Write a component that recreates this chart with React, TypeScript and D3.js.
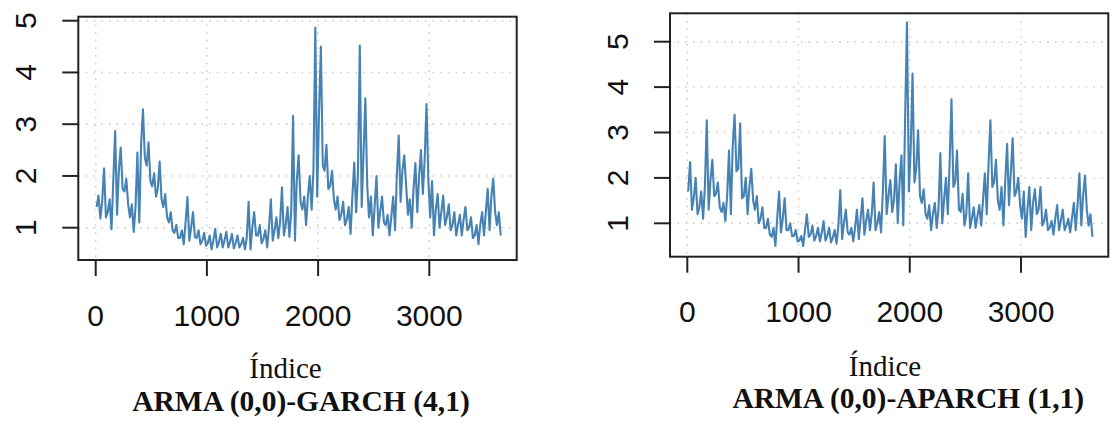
import React from 'react';
import * as d3 from 'd3';

const BIN = 50;
const xTicks = [0, 1000, 2000, 3000];
const yTicks = [1, 2, 3, 4, 5];

const garchLo = [
  1.18, 1.2, 0.97, 1.25, 1.75, 1.45, 0.92, 1.1, 2.35, 1.9,
  1.6, 1.55, 1.2, 0.95, 0.8, 0.68, 0.75, 0.82, 0.68, 0.65,
  0.58, 0.62, 0.62, 0.62, 0.6, 0.62, 0.58, 0.58, 0.85, 0.7,
  0.62, 0.75, 0.8, 0.85, 0.82, 0.75, 1.5, 1.05, 1.35, 1.6,
  2.2, 1.75, 1.55, 1.15, 1.05, 0.88, 1.3, 1.4, 1.8, 0.85,
  1.0, 1.1, 0.85, 0.95, 1.5, 1.8, 1.0, 1.3, 1.65, 1.9,
  0.85, 1.0, 1.05, 0.95, 0.85, 0.85, 0.95, 0.8, 0.68, 0.85,
  0.95, 1.3, 0.85,
];
const garchMid = [
  1.4, 1.5, 1.3, 1.9, 2.1, 1.7, 1.2, 1.4, 2.6, 2.2,
  1.8, 1.75, 1.4, 1.1, 0.9, 0.8, 1.1, 1.0, 0.8, 0.75,
  0.7, 0.75, 0.72, 0.75, 0.72, 0.7, 0.68, 0.8, 1.0, 0.85,
  0.78, 1.0, 0.95, 1.1, 1.05, 1.3, 1.9, 1.35, 1.6, 2.1,
  3.2, 2.1, 1.8, 1.35, 1.25, 1.15, 1.6, 2.0, 2.4, 1.2,
  1.4, 1.3, 1.05, 1.2, 2.0, 2.1, 1.25, 1.75, 2.0, 2.3,
  1.2, 1.35, 1.3, 1.2, 1.05, 1.05, 1.15, 1.0, 0.85, 1.05,
  1.3, 1.6, 1.05,
];
const garchHi = [
  1.62, 2.15, 1.55, 2.87, 2.55, 1.95, 1.45, 2.45, 3.29, 2.65,
  2.05, 2.28, 1.65, 1.3, 1.05, 0.95, 1.59, 1.3, 0.95, 0.9,
  0.85, 0.98, 0.88, 0.92, 0.88, 0.85, 0.8, 1.5, 1.3, 1.05,
  0.95, 1.55, 1.2, 1.78, 1.4, 3.16, 2.4, 1.6, 2.0, 4.87,
  4.5, 2.6, 2.1, 1.6, 1.5, 1.4, 2.26, 4.52, 3.5, 1.6,
  2.0, 1.6, 1.25, 1.6, 2.78, 2.4, 1.55, 2.25, 2.5, 3.39,
  1.9, 1.65, 1.62, 1.45, 1.3, 1.25, 1.4, 1.2, 1.05, 1.3,
  1.75, 1.95, 1.3,
];
const aparchLo = [
  1.3, 1.2, 1.1, 1.3, 1.6, 1.35, 1.05, 1.2, 2.15, 1.55,
  1.2, 1.5, 1.0, 0.9, 0.75, 0.5, 0.8, 0.85, 0.72, 0.6,
  0.5, 0.7, 0.62, 0.6, 0.62, 0.58, 0.55, 0.65, 0.8, 0.6,
  0.65, 0.75, 0.85, 0.85, 0.8, 1.2, 1.25, 1.0, 0.95, 1.7,
  1.9, 1.6, 1.2, 0.85, 0.9, 1.0, 1.2, 1.8, 1.3, 0.95,
  0.9, 0.9, 0.95, 1.2, 1.8, 1.5, 0.95, 1.4, 1.6, 1.4,
  0.7, 0.85, 1.2, 0.95, 0.85, 0.75, 0.85, 0.85, 0.8, 0.85,
  0.95, 1.3, 0.7,
];
const aparchMid = [
  1.7, 1.55, 1.35, 1.8, 1.95, 1.65, 1.25, 1.6, 2.7, 2.2,
  1.6, 1.8, 1.3, 1.1, 0.9, 0.7, 1.1, 1.1, 0.85, 0.72,
  0.62, 0.85, 0.75, 0.72, 0.78, 0.72, 0.68, 0.95, 1.0, 0.75,
  0.9, 1.1, 1.05, 1.2, 1.0, 1.7, 1.6, 1.5, 1.9, 3.3,
  2.6, 2.2, 1.45, 1.1, 1.2, 1.3, 1.5, 2.3, 1.9, 1.25,
  1.2, 1.1, 1.15, 1.5, 2.3, 1.9, 1.3, 1.9, 2.1, 1.7,
  1.1, 1.3, 1.45, 1.3, 1.05, 0.9, 1.1, 1.05, 0.95, 1.1,
  1.4, 1.6, 0.95,
];
const aparchHi = [
  2.35, 2.0, 1.7, 3.27, 2.4, 1.9, 1.45, 2.6, 3.39, 3.2,
  2.0, 2.2, 1.6, 1.35, 1.1, 0.9, 1.7, 1.55, 1.0, 0.85,
  0.72, 1.2, 0.95, 0.9, 1.05, 0.9, 0.85, 1.73, 1.3, 0.9,
  1.3, 1.55, 1.3, 1.9, 1.25, 2.92, 1.95, 2.3, 2.5, 5.43,
  4.3, 3.05, 1.75, 1.4, 1.45, 2.55, 2.0, 3.73, 2.6, 1.65,
  2.1, 1.35, 1.4, 2.1, 3.27, 2.4, 1.8, 2.75, 2.87, 2.0,
  1.7, 1.8, 1.75, 1.8, 1.3, 1.05, 1.4, 1.3, 1.1, 1.45,
  2.1, 2.05, 1.2,
];

const xLabel = 'Índice';
const titles = ['ARMA (0,0)-GARCH (4,1)', 'ARMA (0,0)-APARCH (1,1)'];

// ---- layout ----
const panels = [
  {
    lo: garchLo, mid: garchMid, hi: garchHi, title: titles[0],
    box: { x0: 78.3, x1: 516.7, y0: 16.7, y1: 260 },
    xRange: [95.7, 429.3], yRange: [227.7, 20.7],
    yLabelX: 35.5, tickBase: 326, xlabX: 285.5, xlabBase: 378, titleX: 301, titleBase: 411,
  },
  {
    lo: aparchLo, mid: aparchMid, hi: aparchHi, title: titles[1],
    box: { x0: 670, x1: 1108.3, y0: 13.3, y1: 256.7 },
    xRange: [687.3, 1021], yRange: [223.3, 41.7],
    yLabelX: 628, tickBase: 322, xlabX: 885, xlabBase: 376, titleX: 908.3, titleBase: 407.5,
  },
];

const LINE = '#4682B4';
const AXIS = '#222';
const GRID = '#c4c4c4';
const SANS = '"Liberation Sans", Arial, sans-serif';
const SERIF = '"Liberation Serif", "Times New Roman", serif';

function Panel({ p }: { p: (typeof panels)[number] }) {
  const x = d3.scaleLinear().domain([0, 3000]).range(p.xRange);
  const y = d3.scaleLinear().domain([1, 5]).range(p.yRange);
  const pts: [number, number][] = [];
  p.lo.forEach((lo, k) => {
    pts.push([k * BIN + 8, p.mid[k]]);
    pts.push([k * BIN + 25, p.hi[k]]);
    pts.push([k * BIN + 42, lo]);
  });
  const line = d3.line<[number, number]>().x(d => x(d[0])).y(d => y(d[1]));
  const b = p.box;
  return (
    <g>
      {xTicks.map(t => (
        <line key={'gx' + t} x1={x(t)} x2={x(t)} y1={b.y0} y2={b.y1} stroke={GRID} strokeWidth={1.4} strokeDasharray="1.4 6.3" />
      ))}
      {yTicks.map(t => (
        <line key={'gy' + t} x1={b.x0} x2={b.x1} y1={y(t)} y2={y(t)} stroke={GRID} strokeWidth={1.4} strokeDasharray="1.4 6.3" />
      ))}
      <path d={line(pts) || ''} fill="none" stroke={LINE} strokeWidth={2.1} strokeLinejoin="round" />
      <rect x={b.x0} y={b.y0} width={b.x1 - b.x0} height={b.y1 - b.y0} fill="none" stroke={AXIS} strokeWidth={2} />
      {xTicks.map(t => (
        <g key={'xt' + t}>
          <line x1={x(t)} x2={x(t)} y1={b.y1} y2={b.y1 + 16} stroke={AXIS} strokeWidth={2} />
          <text x={x(t)} y={p.tickBase} textAnchor="middle" fontFamily={SANS} fontSize={30} fill="#111">{t}</text>
        </g>
      ))}
      {yTicks.map(t => (
        <g key={'yt' + t}>
          <line x1={b.x0 - 16} x2={b.x0} y1={y(t)} y2={y(t)} stroke={AXIS} strokeWidth={2} />
          <text transform={`translate(${p.yLabelX},${y(t)}) rotate(-90)`} textAnchor="middle" fontFamily={SANS} fontSize={30} fill="#111">{t}</text>
        </g>
      ))}
      <text x={p.xlabX} y={p.xlabBase} textAnchor="middle" fontFamily={SERIF} fontSize={29} fill="#111">{xLabel}</text>
      <text x={p.titleX} y={p.titleBase} textAnchor="middle" fontFamily={SERIF} fontWeight="bold" fontSize={29.5} fill="#111">{p.title}</text>
    </g>
  );
}

export default function App() {
  return (
    <svg width={1110} height={435} style={{ position: 'absolute', left: 0, top: 0, background: '#fff' }}>
      {panels.map((p, i) => <Panel key={i} p={p} />)}
    </svg>
  );
}
